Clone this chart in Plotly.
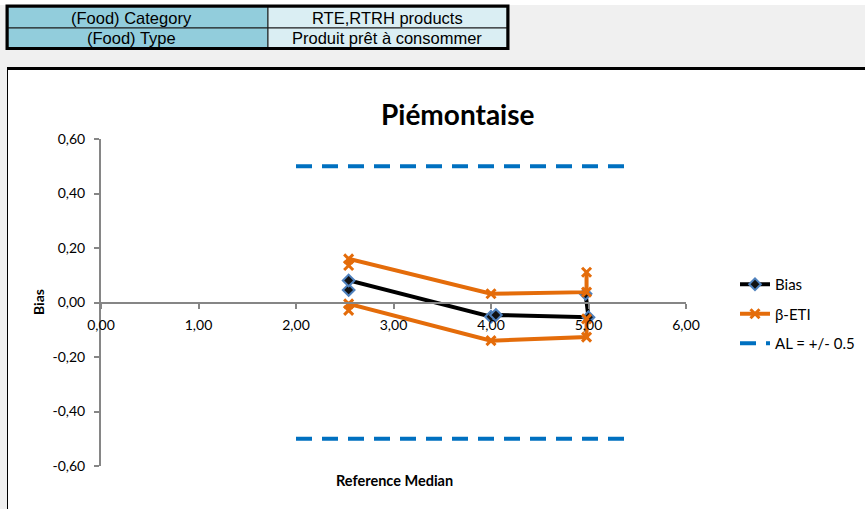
import plotly.graph_objects as go

W, H = 865, 509

# ---- data ----
bias_x = [2.54, 2.54, 4.00, 4.05, 5.00, 4.97]
bias_y = [0.046, 0.081, -0.052, -0.046, -0.054, 0.032]
eti_up_x = [2.54, 2.54, 4.00, 4.98, 4.98]
eti_up_y = [0.136, 0.160, 0.032, 0.038, 0.111]
eti_lo_x = [2.54, 2.54, 4.00, 4.98, 4.98]
eti_lo_y = [-0.029, -0.005, -0.140, -0.127, -0.060]
al_x = [2.0, 5.4]
al_up = [0.5, 0.5]
al_lo = [-0.5, -0.5]

x_tickvals = [0, 1, 2, 3, 4, 5, 6]
x_ticktext = ["0,00", "1,00", "2,00", "3,00", "4,00", "5,00", "6,00"]
y_tickvals = [-0.6, -0.4, -0.2, 0.0, 0.2, 0.4, 0.6]
y_ticktext = ["-0,60", "-0,40", "-0,20", "0,00", "0,20", "0,40", "0,60"]

table_labels = ["(Food) Category", "(Food) Type"]
table_values = ["RTE,RTRH products", "Produit prêt à consommer"]

title_text = "Piémontaise"
x_title = "Reference Median"
y_title = "Bias"


def px(x):
    return x / W


def py(y):
    return 1 - y / H


FONT = "Lato, Calibri, 'Open Sans', sans-serif"
ORANGE = "#E46C0A"
BLUE = "#0070C0"
DASH = "16px,10px"

fig = go.Figure()

fig.add_trace(go.Scatter(
    x=bias_x, y=bias_y, mode="lines+markers", name="Bias",
    line=dict(color="black", width=4),
    marker=dict(symbol="diamond", size=9, color="#111111",
                line=dict(color="#4F81BD", width=2)),
    legendgroup="a", hoverinfo="skip"))
fig.add_trace(go.Scatter(
    x=eti_up_x, y=eti_up_y, mode="lines+markers", name="β-ETI",
    line=dict(color=ORANGE, width=4),
    marker=dict(symbol="x-thin", size=9, color=ORANGE,
                line=dict(color=ORANGE, width=3)),
    legendgroup="b", hoverinfo="skip"))
fig.add_trace(go.Scatter(
    x=eti_lo_x, y=eti_lo_y, mode="lines+markers", name="β-ETI",
    line=dict(color=ORANGE, width=4),
    marker=dict(symbol="x-thin", size=9, color=ORANGE,
                line=dict(color=ORANGE, width=3)),
    legendgroup="b", showlegend=False, hoverinfo="skip"))
fig.add_trace(go.Scatter(
    x=al_x, y=al_up, mode="lines", name="AL = +/- 0.5",
    line=dict(color=BLUE, width=4, dash=DASH),
    legendgroup="c", hoverinfo="skip"))
fig.add_trace(go.Scatter(
    x=al_x, y=al_lo, mode="lines", name="AL = +/- 0.5",
    line=dict(color=BLUE, width=4, dash=DASH),
    legendgroup="c", showlegend=False, hoverinfo="skip"))

ydom = [py(466), py(139)]
xdom = [px(101), px(686)]

shapes = []
# chart frame
shapes.append(dict(type="rect", xref="paper", yref="paper", x0=px(7), x1=px(866),
                   y0=py(510), y1=py(68), fillcolor="white", line=dict(width=0), layer="below"))
shapes.append(dict(type="line", xref="paper", yref="paper", x0=px(7), x1=px(866),
                   y0=py(68.5), y1=py(68.5), line=dict(color="black", width=3), layer="below"))
shapes.append(dict(type="line", xref="paper", yref="paper", x0=px(7.5), x1=px(7.5),
                   y0=py(68), y1=py(510), line=dict(color="black", width=1), layer="below"))
# white strip at top of page
shapes.append(dict(type="rect", xref="paper", yref="paper", x0=0, x1=1,
                   y0=py(5), y1=1, fillcolor="white", line=dict(width=0), layer="below"))
# table cells
cells_y = [(7, 28), (28, 48)]
for (y0, y1) in cells_y:
    shapes.append(dict(type="rect", xref="paper", yref="paper", x0=px(8), x1=px(268),
                       y0=py(y1), y1=py(y0), fillcolor="#92CDDC",
                       line=dict(color="#1a1a1a", width=1), layer="below"))
    shapes.append(dict(type="rect", xref="paper", yref="paper", x0=px(268), x1=px(507),
                       y0=py(y1), y1=py(y0), fillcolor="#DAEEF3",
                       line=dict(color="#1a1a1a", width=1), layer="below"))
shapes.append(dict(type="rect", xref="paper", yref="paper", x0=px(7), x1=px(508),
                   y0=py(48.5), y1=py(6), fillcolor="rgba(0,0,0,0)",
                   line=dict(color="black", width=3), layer="below"))


def ann(text, x, y, size, family=FONT, angle=0):
    return dict(text=text, x=px(x), y=py(y), xref="paper", yref="paper",
                xanchor="center", yanchor="middle", showarrow=False, textangle=angle,
                font=dict(family=family, size=size, color="black"))


annotations = []
for i, (y0, y1) in enumerate(cells_y):
    annotations.append(ann(table_labels[i], 131, (y0 + y1) / 2 + 0.5, 16.5,
                           "Arial, 'Liberation Sans'"))
    annotations.append(ann(table_values[i], 387, (y0 + y1) / 2 + 0.5, 16.5,
                           "Arial, 'Liberation Sans'"))
annotations.append(ann("<b>" + title_text + "</b>", 458, 114, 28))
annotations.append(ann("<b>" + x_title + "</b>", 394, 480, 14.5))
annotations.append(ann("<b>" + y_title + "</b>", 38, 302, 14, angle=-90))

fig.update_layout(
    width=W, height=H, margin=dict(l=0, r=0, t=0, b=0),
    paper_bgcolor="#F0F0F0", plot_bgcolor="rgba(0,0,0,0)",
    font=dict(family=FONT, size=12, color="black"),
    shapes=shapes, annotations=annotations,
    showlegend=True,
    legend=dict(x=px(735), y=py(268), xanchor="left", yanchor="top",
                bgcolor="rgba(0,0,0,0)", font=dict(family=FONT, size=15, color="black"),
                traceorder="grouped", tracegroupgap=7, itemwidth=30),
    xaxis=dict(domain=xdom, range=[0, 6], tickmode="array",
               tickvals=x_tickvals, ticktext=x_ticktext,
               showgrid=False, zeroline=False, showline=True, linecolor="#868686",
               linewidth=2, ticks="outside", ticklen=5, tickwidth=1.5, tickcolor="#868686",
               anchor="free", position=(ydom[0] + ydom[1]) / 2, automargin=False,
               ticklabelstandoff=5, tickfont=dict(size=14, family=FONT, color="black")),
    yaxis=dict(domain=ydom, range=[-0.6, 0.6], tickmode="array",
               tickvals=y_tickvals, ticktext=y_ticktext,
               showgrid=False, zeroline=False, showline=True, linecolor="#868686",
               linewidth=2, ticks="outside", ticklen=5, tickwidth=1.5, tickcolor="#868686",
               automargin=False,
               ticklabelstandoff=6, tickfont=dict(size=14, family=FONT, color="black")),
)

fig.write_html("out.html", config={"displayModeBar": False},
               post_script="document.body.style.margin='0';document.body.style.overflow='hidden';")
